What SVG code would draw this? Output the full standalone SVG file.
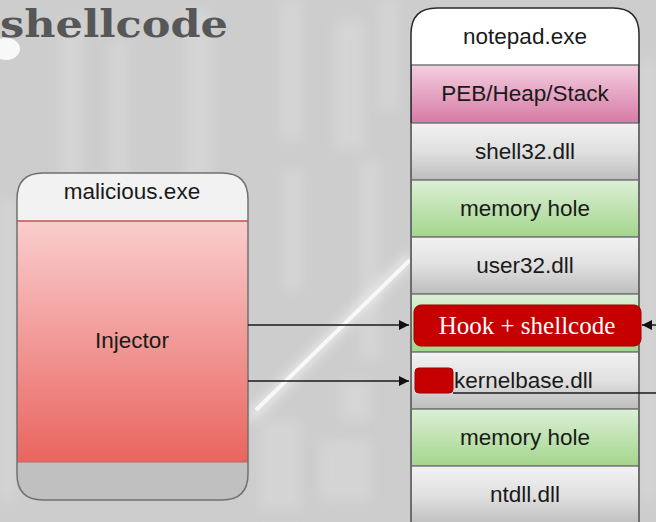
<svg xmlns="http://www.w3.org/2000/svg" width="656" height="522" viewBox="0 0 656 522">
<defs>
<style>
.lbl{font-family:"Liberation Sans",Arial,sans-serif;font-size:22.5px;fill:#1a1a1a;text-anchor:middle}
.ser{font-family:"Liberation Serif","Times New Roman",serif;font-size:25px;fill:#ffffff;text-anchor:middle}
.row{stroke:#7a7a7a;stroke-width:1.5}
.conn{stroke:#1a1a1a;stroke-width:1.5;fill:none}
</style>
<linearGradient id="gGray" x1="0" y1="0" x2="0" y2="1"><stop offset="0" stop-color="#f2f2f2"/><stop offset="0.5" stop-color="#e0e0e0"/><stop offset="1" stop-color="#bdbdbd"/></linearGradient>
<linearGradient id="gPink" x1="0" y1="0" x2="0" y2="1"><stop offset="0" stop-color="#f3cfe0"/><stop offset="1" stop-color="#d67aa5"/></linearGradient>
<linearGradient id="gGreen" x1="0" y1="0" x2="0" y2="1"><stop offset="0" stop-color="#dcefd6"/><stop offset="1" stop-color="#a3d68c"/></linearGradient>
<linearGradient id="gRed" x1="0" y1="0" x2="0" y2="1"><stop offset="0" stop-color="#f9cdcd"/><stop offset="1" stop-color="#e9655f"/></linearGradient>
<filter id="blur" x="-20%" y="-20%" width="140%" height="140%"><feGaussianBlur stdDeviation="6"/></filter>
<marker id="arr" viewBox="0 0 10 10" refX="10" refY="5" markerWidth="10" markerHeight="10" markerUnits="userSpaceOnUse" orient="auto"><path d="M0,0 L10,5 L0,10 z" fill="#111"/></marker>
<clipPath id="npClip"><path d="M411,522 V34 Q411,8 437,8 H613 Q639,8 639,34 V522 Z"/></clipPath>
<clipPath id="malClip"><path d="M17,474 V199 Q17,173 43,173 H222 Q248,173 248,199 V474 Q248,500 222,500 H43 Q17,500 17,474 Z"/></clipPath>
</defs>
<g id="background">
<rect x="0" y="0" width="656" height="522" fill="#cdcdcd"/>
<g filter="url(#blur)" fill="#d9d9d9" opacity="0.65">
<rect x="60" y="20" width="22" height="250"/>
<rect x="110" y="40" width="18" height="160"/>
<rect x="185" y="10" width="26" height="300"/>
<rect x="280" y="0" width="22" height="140"/>
<rect x="335" y="20" width="30" height="130"/>
<rect x="380" y="0" width="18" height="110"/>
<rect x="283" y="170" width="20" height="120"/>
<rect x="360" y="160" width="20" height="200"/>
<rect x="260" y="420" width="40" height="90"/>
<rect x="320" y="440" width="50" height="60"/>
<rect x="340" y="380" width="30" height="40"/>
<rect x="0" y="200" width="15" height="300"/>
<rect x="640" y="60" width="16" height="440"/>
</g>
<path d="M250,418 L412,256" stroke="#f2f2f2" stroke-width="10" opacity="0.8" filter="url(#blur)"/>
<path d="M256,410 L410,260" stroke="#f8f8f8" stroke-width="4"/>
<ellipse cx="6" cy="49" rx="14" ry="11" fill="#f8f8f8"/>
</g>
<text id="title" x="0" y="37" font-family="'DejaVu Serif',serif" font-weight="bold" font-size="38" fill="#575757" textLength="228" lengthAdjust="spacingAndGlyphs">shellcode</text>
<g id="malicious">
<g clip-path="url(#malClip)">
<rect x="17" y="173" width="231" height="48" fill="#f2f2f2"/>
<rect x="17" y="221" width="231" height="241" fill="url(#gRed)"/>
<rect x="17" y="462" width="231" height="38" fill="#c0c0c0"/>
<line x1="17" y1="221" x2="248" y2="221" stroke="#c25050" stroke-width="1.5"/>
<line x1="17" y1="462" x2="248" y2="462" stroke="#b56a6a" stroke-width="1"/>
</g>
<path d="M17,474 V199 Q17,173 43,173 H222 Q248,173 248,199 V474 Q248,500 222,500 H43 Q17,500 17,474 Z" fill="none" stroke="#707070" stroke-width="1.5"/>
<text class="lbl" x="132" y="199">malicious.exe</text>
<text class="lbl" x="132" y="348">Injector</text>
</g>
<g id="notepad">
<g clip-path="url(#npClip)">
<rect x="411" y="8" width="228" height="57" fill="#ffffff"/>
<rect class="row" x="411" y="65" width="228" height="58" fill="url(#gPink)" stroke="#b45a86"/>
<rect class="row" x="411" y="123" width="228" height="57" fill="url(#gGray)"/>
<rect class="row" x="411" y="180" width="228" height="57" fill="url(#gGreen)" stroke="#88b878"/>
<rect class="row" x="411" y="237" width="228" height="57" fill="url(#gGray)"/>
<rect class="row" x="411" y="294" width="228" height="58" fill="url(#gGreen)" stroke="#88b878"/>
<rect class="row" x="411" y="352" width="228" height="57" fill="url(#gGray)"/>
<rect class="row" x="411" y="409" width="228" height="57" fill="url(#gGreen)" stroke="#88b878"/>
<rect class="row" x="411" y="466" width="228" height="60" fill="url(#gGray)"/>
</g>
<path d="M411,522 V34 Q411,8 437,8 H613 Q639,8 639,34 V522" fill="none" stroke="#2a2a2a" stroke-width="1.5"/>
<line x1="411" y1="123" x2="411" y2="522" stroke="#7a7a7a" stroke-width="1.5"/>
<line x1="639" y1="123" x2="639" y2="522" stroke="#7a7a7a" stroke-width="1.5"/>
<text class="lbl" x="525" y="44">notepad.exe</text>
<text class="lbl" x="525" y="101">PEB/Heap/Stack</text>
<text class="lbl" x="525" y="159">shell32.dll</text>
<text class="lbl" x="525" y="216">memory hole</text>
<text class="lbl" x="525" y="273">user32.dll</text>
<text class="lbl" x="454" y="388" style="text-anchor:start">kernelbase.dll</text>
<text class="lbl" x="525" y="445">memory hole</text>
<text class="lbl" x="525" y="502">ntdll.dll</text>
</g>
<g id="hook">
<rect x="414" y="305" width="227" height="41" rx="7" fill="#c60000" stroke="#a00000" stroke-width="1"/>
<text class="ser" x="527" y="334">Hook + shellcode</text>
</g>
<g id="hookstub">
<rect x="415" y="368" width="38" height="25" rx="4" fill="#c60000" stroke="#a00000" stroke-width="1"/>
</g>
<g id="connectors">
<line class="conn" x1="248" y1="325" x2="409" y2="325" marker-end="url(#arr)"/>
<line class="conn" x1="248" y1="381" x2="409" y2="381" marker-end="url(#arr)"/>
<line class="conn" x1="656" y1="325" x2="642" y2="325" marker-end="url(#arr)"/>
<line class="conn" x1="453" y1="393" x2="656" y2="393"/>
</g>
</svg>
